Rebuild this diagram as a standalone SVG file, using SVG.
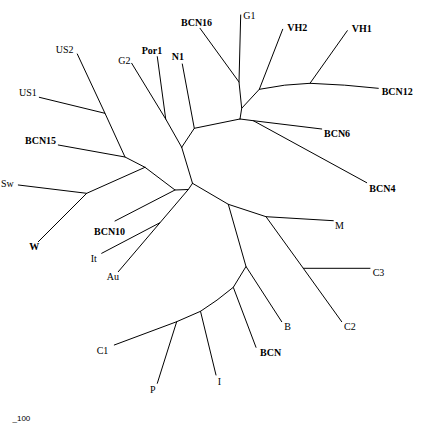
<svg xmlns="http://www.w3.org/2000/svg" width="435" height="431" viewBox="0 0 435 431">
<style>
.e{stroke:#000;stroke-width:1;fill:none;stroke-linecap:round}
text{font-family:"Liberation Serif","Times New Roman",serif;font-size:10px;fill:#000}
.b{font-weight:bold}
.s{font-family:"Liberation Sans",Arial,sans-serif;font-size:8px}
</style>
<rect width="435" height="431" fill="#fff"/>
<g id="connectors">
<polyline class="e" points="181.7,147.3 192.5,183.3"/>
<polyline class="e" points="181.7,147.3 165.7,119 131.7,63.3"/>
<polyline class="e" points="165.7,119 157.3,56.7"/>
<polyline class="e" points="181.7,147.3 194.3,128.3 182.3,64"/>
<polyline class="e" points="194.3,128.3 240,119"/>
<polyline class="e" points="240,119 241.7,108.3 239,82 240.7,15"/>
<polyline class="e" points="239,82 200,28.3"/>
<polyline class="e" points="241.7,108.3 259.3,89.3 282.7,29.3"/>
<path class="e" d="M259.3,89.3 Q285,84 310,83.3 Q345,84.5 378.3,88.3"/>
<polyline class="e" points="310,83.3 347.3,30.7"/>
<polyline class="e" points="240,119 253.3,120.7 321.7,129"/>
<polyline class="e" points="253.3,120.7 366.7,182.7"/>
<polyline class="e" points="192.5,183.3 188.3,189.5 175,190 145,167.3 125,157 58.3,145"/>
<polyline class="e" points="125,157 105,113.3 39.3,97.3"/>
<polyline class="e" points="105,113.3 77.3,54"/>
<polyline class="e" points="145,167.3 86.7,193.3 18.3,185"/>
<polyline class="e" points="86.7,193.3 38.3,241.7"/>
<polyline class="e" points="175,190 115,221"/>
<polyline class="e" points="188.3,189.5 160,222.7 118.3,271.7"/>
<polyline class="e" points="160,222.7 101.7,253.3"/>
<polyline class="e" points="192.5,183.3 228.3,204.3 266,216.7 333.3,220.7"/>
<polyline class="e" points="266,216.7 303.3,268.3 341.7,321.7"/>
<polyline class="e" points="303.3,268.3 370,268.3"/>
<polyline class="e" points="228.3,204.3 246,266.5 281.7,321.7"/>
<polyline class="e" points="246,266.5 233.3,287.3 256,347.3"/>
<path class="e" d="M233.3,287.3 Q217,301 200.5,311.3 L216,375"/>
<polyline class="e" points="200.5,311.3 176.7,321.7 157.3,383.3"/>
<polyline class="e" points="176.7,321.7 114.3,345"/>
</g>
<g id="n-BCN16"><text class="b" x="181" y="25.5">BCN16</text></g>
<g id="n-G1"><text x="243.3" y="18.5">G1</text></g>
<g id="n-VH2"><text class="b" x="287.3" y="31">VH2</text></g>
<g id="n-VH1"><text class="b" x="351.7" y="32">VH1</text></g>
<g id="n-BCN12"><text class="b" x="381.7" y="95">BCN12</text></g>
<g id="n-BCN6"><text class="b" x="324" y="137">BCN6</text></g>
<g id="n-BCN4"><text class="b" x="369.3" y="192">BCN4</text></g>
<g id="n-M"><text x="335" y="228.5">M</text></g>
<g id="n-C3"><text x="372.7" y="276">C3</text></g>
<g id="n-C2"><text x="344" y="330">C2</text></g>
<g id="n-B"><text x="284.3" y="329.5">B</text></g>
<g id="n-BCN"><text class="b" x="260" y="356">BCN</text></g>
<g id="n-I"><text x="217.7" y="385">I</text></g>
<g id="n-P"><text x="150" y="392.7">P</text></g>
<g id="n-C1"><text x="96.7" y="354">C1</text></g>
<g id="n-Au"><text x="106.7" y="280">Au</text></g>
<g id="n-It"><text x="90.7" y="262">It</text></g>
<g id="n-BCN10"><text class="b" x="94" y="234.5">BCN10</text></g>
<g id="n-W"><text class="b" x="29.3" y="249.5">W</text></g>
<g id="n-Sw"><text x="1" y="186.7">Sw</text></g>
<g id="n-BCN15"><text class="b" x="25" y="144">BCN15</text></g>
<g id="n-US1"><text x="19" y="96">US1</text></g>
<g id="n-US2"><text x="55.7" y="52.5">US2</text></g>
<g id="n-G2"><text x="118.3" y="63.5">G2</text></g>
<g id="n-Por1"><text class="b" x="141.7" y="54">Por1</text></g>
<g id="n-N1"><text class="b" x="171.7" y="60">N1</text></g>
<g id="scale"><text class="s" x="12.5" y="421">_100</text></g>
</svg>
